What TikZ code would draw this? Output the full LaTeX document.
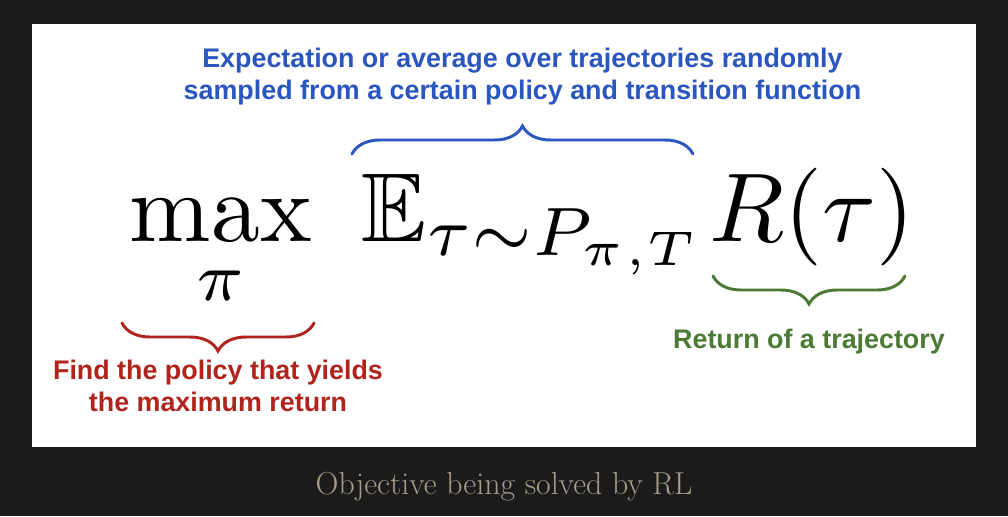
\documentclass[tikz,border=0pt]{standalone}
\usepackage{amsmath}
\usepackage{amssymb}
\usepackage{fontspec}
\setsansfont{Liberation Sans}
\usetikzlibrary{positioning, calc, decorations.pathreplacing}
\definecolor{pageback}{RGB}{27,27,27}
\definecolor{cblue}{RGB}{42,86,192}
\definecolor{cred}{RGB}{176,36,30}
\definecolor{cgreen}{RGB}{76,122,52}
\definecolor{captiongray}{RGB}{166,156,136}

\begin{document}
\begin{tikzpicture}[x=0.025cm, y=0.025cm,
    card/.style={fill=white, minimum width=23.6cm, minimum height=10.575cm, inner sep=0},
    bigmath/.style={scale=6.95, inner sep=0, anchor=base west},
    curly/.style={decorate, decoration={brace, amplitude=0.7cm}, line width=2.1pt, line cap=round},
    note/.style={font=\sffamily\bfseries\fontsize{19.1}{22.9}\selectfont, align=center, inner sep=0},
]
    \fill[pageback] (0,0) rectangle (1008,516);
    \node[card] (card) at (504,280.5) {};

    % the objective, split in three parts
    \node[bigmath] (maxop) at (128,275) {$\displaystyle\max_{\pi}$};
    \node[bigmath] (expect) at (360,275) {$\mathbb{E}_{\tau\sim P_{\pi,T}}$};
    \node[bigmath] (ret) at (708,275) {$R(\tau)$};

    % braces
    \coordinate (eleft) at (352,362);
    \coordinate (eright) at (693,362);
    \coordinate (etip) at ($(eleft)!0.5!(eright)+(0,28)$);
    \draw[curly, cblue] (eleft) -- (eright);

    \coordinate (mleft) at (122,193);
    \coordinate (mright) at (314,193);
    \coordinate (mtip) at ($(mleft)!0.5!(mright)+(0,-28)$);
    \draw[curly, cred] (mright) -- (mleft);

    \coordinate (rleft) at (713,240);
    \coordinate (rright) at (905,240);
    \coordinate (rtip) at ($(rleft)!0.5!(rright)+(0,-28)$);
    \draw[curly, cgreen] (rright) -- (rleft);

    \node[note, cblue, above=0.52cm of etip] (expnote) {Expectation or average over trajectories randomly\\sampled from a certain policy and transition function};
    \node[note, cred, below=0.22cm of mtip] (maxnote) {Find the policy that yields\\the maximum return};
    \node[note, cgreen, below=0.62cm of rtip] (retnote) {Return of a trajectory};

    \node[font=\fontsize{22.6}{26}\selectfont, text=captiongray, inner sep=0, below=0.62cm of card] (caption) {Objective being solved by RL};
\end{tikzpicture}
\end{document}
